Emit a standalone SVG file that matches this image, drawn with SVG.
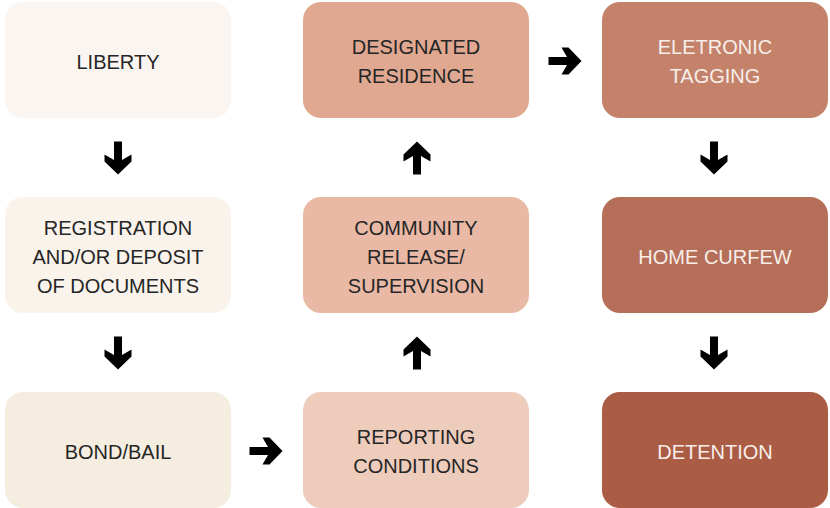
<svg xmlns="http://www.w3.org/2000/svg" xmlns:xlink="http://www.w3.org/1999/xlink" width="830" height="508" viewBox="0 0 830 508">
<style>
.t{font-family:"Liberation Sans",Arial,sans-serif;font-size:20px;text-anchor:middle;fill:#262626}
.w{fill:#f7eeea}
.a{fill:#000}
</style>
<defs>
<path id="arr" d="M-16.5,-4 L2,-4 L-3.5,-13.5 L3.5,-13.5 L16.5,0 L3.5,13.5 L-3.5,13.5 L2,4 L-16.5,4 Z"/>
</defs>
<rect width="830" height="508" fill="#fff"/>
<g id="liberty"><rect x="5" y="2" width="226" height="116" rx="18" fill="#faf5f0"/><text class="t" x="118" y="69">LIBERTY</text></g>
<g id="registration"><rect x="5" y="197" width="226" height="116" rx="18" fill="#f9f3eb"/><text class="t" x="118" y="235">REGISTRATION</text><text class="t" x="118" y="264">AND/OR DEPOSIT</text><text class="t" x="118" y="293">OF DOCUMENTS</text></g>
<g id="bond"><rect x="5" y="392" width="226" height="116" rx="18" fill="#f5ede0"/><text class="t" x="118" y="459">BOND/BAIL</text></g>
<g id="reporting"><rect x="303" y="392" width="226" height="116" rx="18" fill="#eeccbc"/><text class="t" x="416" y="444">REPORTING</text><text class="t" x="416" y="473">CONDITIONS</text></g>
<g id="community"><rect x="303" y="197" width="226" height="116" rx="18" fill="#e9b9a6"/><text class="t" x="416" y="235">COMMUNITY</text><text class="t" x="416" y="264">RELEASE/</text><text class="t" x="416" y="293">SUPERVISION</text></g>
<g id="designated"><rect x="303" y="2" width="226" height="116" rx="18" fill="#e0a891"/><text class="t" x="416" y="54">DESIGNATED</text><text class="t" x="416" y="83">RESIDENCE</text></g>
<g id="eletronic"><rect x="602" y="2" width="226" height="116" rx="18" fill="#c4826b"/><text class="t w" x="715" y="54">ELETRONIC</text><text class="t w" x="715" y="83">TAGGING</text></g>
<g id="curfew"><rect x="602" y="197" width="226" height="116" rx="18" fill="#b56f58"/><text class="t w" x="715" y="264">HOME CURFEW</text></g>
<g id="detention"><rect x="602" y="392" width="226" height="116" rx="18" fill="#ab5c44"/><text class="t w" x="715" y="459">DETENTION</text></g>
<g id="connectors" class="a">
<use xlink:href="#arr" transform="translate(118,158) rotate(90)"/>
<use xlink:href="#arr" transform="translate(118,353) rotate(90)"/>
<use xlink:href="#arr" transform="translate(266,451)"/>
<use xlink:href="#arr" transform="translate(417,353) rotate(-90)"/>
<use xlink:href="#arr" transform="translate(417,158) rotate(-90)"/>
<use xlink:href="#arr" transform="translate(565,61)"/>
<use xlink:href="#arr" transform="translate(714,158) rotate(90)"/>
<use xlink:href="#arr" transform="translate(714,353) rotate(90)"/>
</g>
</svg>
